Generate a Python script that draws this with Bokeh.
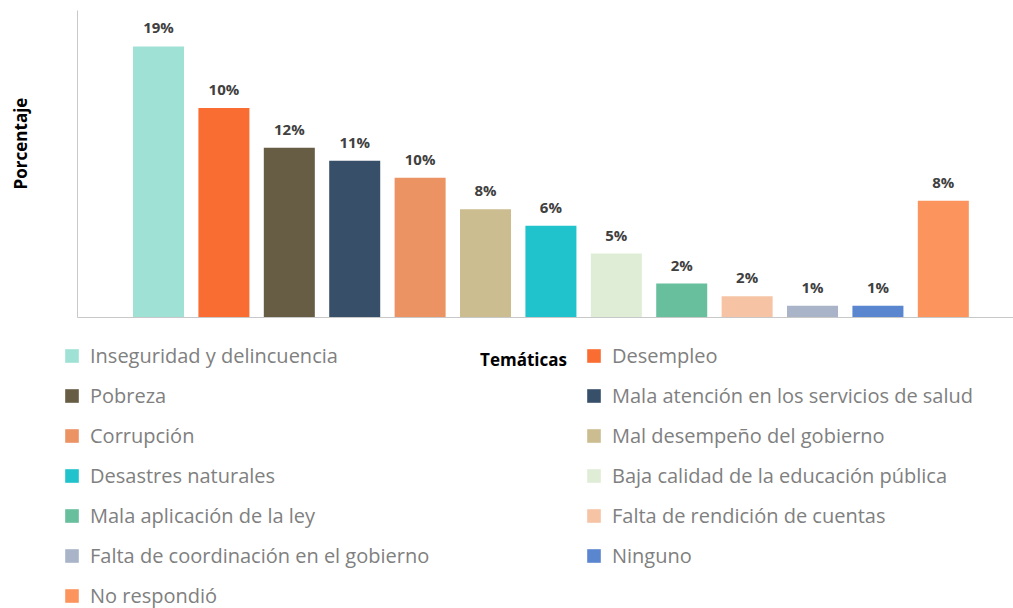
import math
from bokeh.plotting import figure
from bokeh.models import (ColumnDataSource, Range1d, FixedTicker, Legend, LegendItem, Label, LinearAxis)
from bokeh.core.properties import value
from bokeh.embed import file_html
from bokeh.resources import INLINE

categories = [
    "Inseguridad y delincuencia",
    "Desempleo",
    "Pobreza",
    "Mala atención en los servicios de salud",
    "Corrupción",
    "Mal desempeño del gobierno",
    "Desastres naturales",
    "Baja calidad de la educación pública",
    "Mala aplicación de la ley",
    "Falta de rendición de cuentas",
    "Falta de coordinación en el gobierno",
    "Ninguno",
    "No respondió",
]
bar_heights = [19.0, 14.7, 11.9, 11.0, 9.8, 7.6, 6.45, 4.5, 2.4, 1.5, 0.85, 0.85, 8.2]
value_labels = ["19%", "10%", "12%", "11%", "10%", "8%", "6%", "5%", "2%", "2%", "1%", "1%", "8%"]
colors = ["#9fe2d5", "#f96d33", "#675c44", "#384f69", "#ec9364", "#cbbd8f", "#20c2cb",
          "#dfedd6", "#68bf9d", "#f6c4a4", "#a9b4c8", "#5a86cf", "#fc955d"]

xs = list(range(len(categories)))
src = ColumnDataSource(dict(x=xs, top=bar_heights, lab=value_labels, color=colors, cat=categories))

X0, X1 = -2.416, 13.073      # full canvas width
Y0, Y1 = -20.36, 22.22       # full canvas height
XAXIS_START = -1.2385        # where the vertical axis sits
YAXIS_TOP = 21.52

p = figure(width=1013, height=608, output_backend="svg", toolbar_location=None,
           x_range=Range1d(X0, X1), y_range=Range1d(Y0, Y1),
           x_axis_location=None, y_axis_location=None,
           min_border_left=0, min_border_right=0, min_border_top=0, min_border_bottom=0)
p.outline_line_color = None
p.xgrid.visible = False
p.ygrid.visible = False
p.background_fill_color = "white"

bars = p.vbar(x="x", top="top", width=0.78, bottom=0, fill_color="color", line_color=None, source=src)
p.text(x="x", y="top", text="lab", source=src, text_align="center", text_baseline="bottom",
       y_offset=-9, text_font=value("Open Sans"), text_font_style="bold", text_font_size="15px",
       text_color="#404040")

xaxis = LinearAxis(fixed_location=0, bounds=(XAXIS_START, X1))
yaxis = LinearAxis(fixed_location=XAXIS_START, bounds=(0, YAXIS_TOP))
for ax in (xaxis, yaxis):
    ax.ticker = FixedTicker(ticks=[])
    ax.major_tick_line_color = None
    ax.minor_tick_line_color = None
    ax.major_label_text_font_size = "0px"
    ax.axis_line_color = "#c8c8c8"
p.add_layout(xaxis, "below")
p.add_layout(yaxis, "left")

p.add_layout(Label(x=19.5, y=465, x_units="screen", y_units="screen", text="Porcentaje",
                   angle=math.pi / 2, text_align="center", text_baseline="middle",
                   text_font="Open Sans", text_font_style="bold", text_font_size="17px",
                   text_color="#000000"))
p.add_layout(Label(x=523, y=249, x_units="screen", y_units="screen", text="Temáticas",
                   text_align="center", text_baseline="middle",
                   text_font="Open Sans", text_font_style="bold", text_font_size="17px",
                   text_color="#000000"))

items = [LegendItem(label=c, renderers=[bars], index=i) for i, c in enumerate(categories)]
legend = Legend(items=items, orientation="horizontal", ncols=2, location=(63, -1),
                glyph_width=17, glyph_height=17, label_standoff=10, label_width=482,
                label_height=17, spacing=13, padding=0, margin=0,
                label_text_font="Open Sans", label_text_font_size="20px", label_text_color="#808080",
                border_line_alpha=0, background_fill_alpha=0)
p.add_layout(legend, "center")

open("out.html", "w").write(file_html(p, INLINE))
